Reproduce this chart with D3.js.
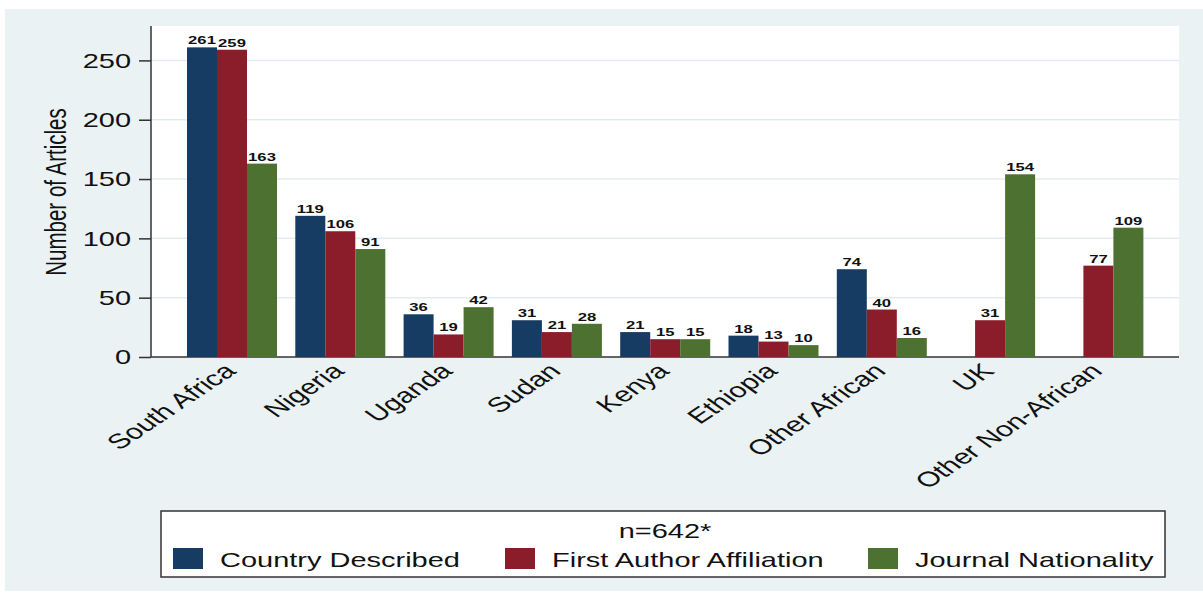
<!DOCTYPE html>
<html>
<head>
<meta charset="utf-8">
<script src="https://cdn.jsdelivr.net/npm/d3@7"></script>
<style>
  html, body { margin: 0; padding: 0; background: #ffffff; }
  svg { display: block; }
  text { font-family: "Liberation Sans", Arial, Helvetica, sans-serif; fill: #111; }
</style>
</head>
<body>
<svg id="chart" width="1203" height="594"></svg>
<script>
// ---------------- data ----------------
const categories = ["South Africa", "Nigeria", "Uganda", "Sudan", "Kenya", "Ethiopia", "Other African", "UK", "Other Non-African"];
const seriesNames = ["Country Described", "First Author Affiliation", "Journal Nationality"];
const countryDescribed      = [261, 119, 36, 31, 21, 18, 74, null, null];
const firstAuthorAffiliation = [259, 106, 19, 21, 15, 13, 40, 31, 77];
const journalNationality    = [163, 91, 42, 28, 15, 10, 16, 154, 109];
const yTicks = [0, 50, 100, 150, 200, 250];
const yTitle = "Number of Articles";
const legendTitle = "n=642*";
const colors = ["#163c63", "#8b1c29", "#4d7131"];

const seriesValues = [countryDescribed, firstAuthorAffiliation, journalNationality];

// ---------------- layout ----------------
const S = 1.45; // horizontal stretch of the original picture
const svg = d3.select("#chart");
const plot = { left: 151, right: 1179, top: 26, bottom: 357 };

// background
svg.append("rect").attr("x", 5).attr("y", 9).attr("width", 1198).attr("height", 582).attr("fill", "#eaf2f3");
svg.append("rect").attr("x", plot.left).attr("y", plot.top)
  .attr("width", plot.right - plot.left).attr("height", plot.bottom - plot.top).attr("fill", "#ffffff");

function stext(parent, x, y, str, o = {}) {
  const t = parent.append("text")
    .attr("transform", `translate(${x},${y}) scale(${S},1)` + (o.rotate ? ` rotate(${o.rotate})` : ""))
    .attr("font-size", o.size || 20)
    .attr("text-anchor", o.anchor || "start")
    .text(str);
  if (o.weight) t.attr("font-weight", o.weight);
  if (o.dy) t.attr("dy", o.dy);
  return t;
}

// scales
const y = d3.scaleLinear().domain([0, 279]).range([plot.bottom, plot.top]);
const step = 108.3, padIn = 0.169;
const x0 = d3.scaleBand().domain(categories)
  .range([187, 187 + step * (categories.length - padIn)])
  .paddingInner(padIn).paddingOuter(0);
const x1 = d3.scaleBand().domain(d3.range(seriesNames.length)).range([0, x0.bandwidth()]);

// gridlines
svg.append("g").selectAll("line").data(yTicks.filter(d => d > 0)).join("line")
  .attr("x1", plot.left).attr("x2", plot.right)
  .attr("y1", d => y(d)).attr("y2", d => y(d))
  .attr("stroke", "#e2edf0").attr("stroke-width", 1.5);

// y axis (line + ticks via d3.axisLeft, labels drawn stretched)
const yAxis = svg.append("g").attr("transform", `translate(${plot.left},0)`)
  .call(d3.axisLeft(y).tickValues(yTicks).tickSize(12).tickFormat(""));
yAxis.select(".domain").attr("stroke", "#333").attr("stroke-width", 1.5).attr("d", `M0,${plot.top}V${plot.bottom}`);
yAxis.selectAll(".tick line").attr("stroke", "#333").attr("stroke-width", 1.5);
yTicks.forEach(v => stext(svg, 131, y(v), String(v), { anchor: "end", dy: "0.36em", size: 20 }));

// x axis line
svg.append("line").attr("x1", plot.left).attr("x2", plot.right)
  .attr("y1", plot.bottom).attr("y2", plot.bottom).attr("stroke", "#333").attr("stroke-width", 1.5);

// bars
const groups = svg.append("g").selectAll("g").data(categories).join("g")
  .attr("transform", d => `translate(${x0(d)},0)`);
seriesValues.forEach((vals, si) => {
  groups.each(function (cat, ci) {
    const v = vals[ci];
    if (v === null || v === undefined) return;
    const g = d3.select(this);
    g.append("rect")
      .attr("x", x1(si)).attr("width", x1.bandwidth())
      .attr("y", y(v)).attr("height", y(0) - y(v))
      .attr("fill", colors[si]);
    stext(g, x1(si) + x1.bandwidth() / 2, y(v) - 3, String(v), { anchor: "middle", size: 11.5, weight: "bold" });
  });
});

// x labels
categories.forEach(c => {
  const cx = x0(c) + x0.bandwidth() / 2;
  stext(svg, cx - 2, 367, c, { anchor: "end", rotate: -44, size: 21, dy: "0.35em" });
});

// y title
stext(svg, 56, 192, yTitle, { anchor: "middle", rotate: -90, size: 20.5, dy: "0.35em" });

// legend
const lg = svg.append("g");
lg.append("rect").attr("x", 161).attr("y", 511).attr("width", 1004).attr("height", 66)
  .attr("fill", "#ffffff").attr("stroke", "#333").attr("stroke-width", 1.5);
stext(lg, 665, 538, legendTitle, { anchor: "middle", size: 20 });
const legX = [173, 505, 868];
seriesNames.forEach((n, i) => {
  lg.append("rect").attr("x", legX[i]).attr("y", 548).attr("width", 30).attr("height", 21).attr("fill", colors[i]);
  stext(lg, legX[i] + 47, 567, n, { size: 20 });
});
</script>
</body>
</html>
